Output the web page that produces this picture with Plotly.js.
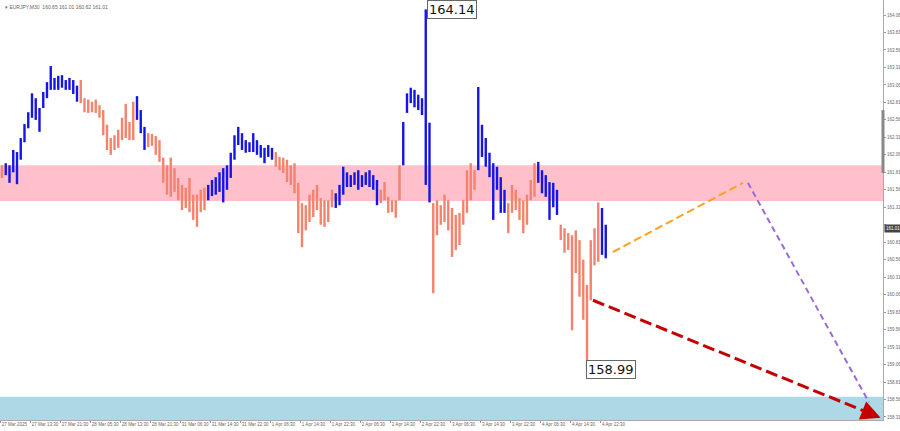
<!DOCTYPE html>
<html><head><meta charset="utf-8">
<script src="https://cdn.plot.ly/plotly-3.0.1.min.js"></script>
<style>html,body{margin:0;padding:0;background:#fff;overflow:hidden}#chart{width:900px;height:431px}</style>
</head><body><div id="chart"></div>
<script>
// ---- data (EURJPY, M30) ----
const highs = [
161.91,161.94,161.91,162.13,162.10,162.30,162.50,162.67,162.94,162.87,
162.73,162.96,163.10,163.33,163.16,163.19,163.20,163.13,163.16,163.13,
163.05,163.13,162.87,162.85,162.82,162.85,162.77,162.70,162.49,162.30,
162.34,162.42,162.59,162.79,162.53,162.82,162.90,162.70,162.46,162.37,
162.36,162.33,162.27,162.02,161.91,162.02,161.87,161.73,161.63,161.59,
161.73,161.49,161.49,161.56,161.59,161.63,161.70,161.74,161.81,161.87,
161.91,162.09,162.34,162.46,162.37,162.27,162.24,162.37,162.27,162.20,
162.16,162.20,162.16,162.10,162.03,162.02,161.99,161.91,161.94,161.66,
161.37,161.34,161.49,161.56,161.63,161.44,161.41,161.41,161.56,161.51,
161.63,161.89,161.81,161.77,161.81,161.84,161.77,161.81,161.84,161.77,
161.70,161.56,161.67,161.46,161.41,161.41,161.91,162.53,162.94,163.02,
162.99,162.92,162.87,164.14,162.52,161.37,161.41,161.34,161.49,161.41,
161.30,161.20,161.23,161.41,161.84,161.94,161.84,163.03,162.49,162.30,
162.09,161.94,161.89,161.74,161.56,161.37,161.63,161.56,161.44,161.41,
161.49,161.70,161.94,161.96,161.84,161.77,161.67,161.66,161.56,161.06,
161.01,160.94,160.91,160.98,160.84,160.56,160.20,160.84,161.01,161.38,
161.30,161.06];
const lows = [
161.73,161.77,161.66,161.81,161.64,161.99,162.24,162.44,162.59,162.56,
162.39,162.73,162.87,162.99,162.99,162.99,163.02,162.99,162.99,162.93,
162.82,162.80,162.67,162.66,162.67,162.66,162.59,162.34,162.13,162.06,
162.13,162.16,162.27,162.30,162.27,162.27,162.56,162.37,162.13,162.17,
162.19,162.06,161.96,161.66,161.49,161.46,161.53,161.41,161.27,161.30,
161.24,161.13,161.03,161.24,161.27,161.41,161.47,161.49,161.53,161.38,
161.56,161.73,161.99,162.20,162.13,162.09,162.10,162.10,162.06,162.02,
161.94,162.03,161.99,161.89,161.84,161.80,161.67,161.63,161.51,160.94,
160.74,160.98,161.10,161.17,161.27,161.06,161.03,161.10,161.31,161.30,
161.34,161.49,161.60,161.60,161.63,161.56,161.60,161.63,161.60,161.56,
161.34,161.37,161.41,161.23,161.24,161.16,161.41,161.91,162.66,162.80,
162.74,162.70,162.63,161.63,161.38,160.08,160.91,161.06,161.10,160.98,
160.60,160.70,160.77,161.06,161.23,161.41,161.56,161.84,162.03,161.89,
161.74,161.13,161.56,161.23,161.23,160.94,161.23,161.27,161.13,160.94,
161.06,161.41,161.46,161.66,161.51,161.46,161.13,161.31,161.20,160.84,
160.66,160.70,159.55,160.37,160.03,159.70,158.99,159.98,160.48,160.53,
160.63,160.58];
// 1 = blue wave segment, 0 = salmon wave segment
const waveColor = [
0,
1,1,1,1,1,1,1,1,1,1,1,1,1,1,1,1,1,1,1,1,
0,0,0,0,0,0,0,0,0,0,0,0,0,0,0,
1,1,1,
0,0,0,0,0,0,0,0,0,0,0,0,0,0,0,0,
1,1,1,1,1,1,1,1,1,1,1,1,1,1,1,1,1,1,
0,0,0,0,0,0,0,0,0,0,0,0,0,0,0,0,
1,1,1,1,1,1,1,1,1,1,1,1,
0,0,0,0,0,0,
1,1,1,1,1,1,1,1,
0,0,0,0,0,0,0,0,0,0,0,0,
1,1,1,1,1,1,1,1,
0,0,0,0,0,0,0,0,
1,1,1,1,1,1,
0,0,0,0,0,0,0,0,0,0,0,
1,1];
const timeLabels = ["27 Mar 2025","27 Mar 13:30","27 Mar 21:30","28 Mar 05:30","28 Mar 13:30","28 Mar 21:30",
"31 Mar 06:30","31 Mar 14:30","31 Mar 22:30","1 Apr 06:30","1 Apr 14:30","1 Apr 22:30",
"2 Apr 06:30","2 Apr 14:30","2 Apr 22:30","3 Apr 06:30","3 Apr 14:30","3 Apr 22:30",
"4 Apr 06:30","4 Apr 14:30","4 Apr 22:30"];
const barsPerLabel = 8;
const priceTicks = [164.06,163.81,163.56,163.31,163.06,162.81,162.56,162.31,162.06,161.81,161.56,161.31,
161.06,160.81,160.56,160.31,160.06,159.81,159.56,159.31,159.06,158.81,158.56,158.31];
const swingHighValue = 164.14, swingHighBar = 113;
const swingLowValue = 158.99, swingLowBar = 156;
const lastPrice = 161.01;
const headerText = "EURJPY,M30  160.65 161.01 160.62 161.01";
const resistanceZone = [161.40, 161.91];
const supportZone = [158.20, 158.60];
// forecast paths (bar index, price)
const orangeX = [162.9, 197.6], orangeY = [160.67, 161.66];
const purpleX = [198.9, 231.2], purpleY = [161.66, 158.52];
const redX = [157.6, 231.5], redY = [159.98, 158.36];
const redTip = [234.3, 158.30];

const xRange = [-0.53, 234.93];
const yRange = [158.267, 164.275];

function bars(dir){
  const x=[], y=[];
  highs.forEach((h,i)=>{ if(waveColor[i]===dir){ x.push(i,i,null); y.push(lows[i],h,null);} });
  return {x,y};
}
const b1 = bars(1), b0 = bars(0);
const traces = [
  {type:'scatter',mode:'lines',x:b0.x,y:b0.y,line:{color:'#f4826c',width:2.4},hoverinfo:'skip',connectgaps:false},
  {type:'scatter',mode:'lines',x:b1.x,y:b1.y,line:{color:'#1515e6',width:2.4},hoverinfo:'skip',connectgaps:false},
  {type:'scatter',mode:'lines',x:orangeX,y:orangeY,line:{color:'#ffa01e',width:2,dash:'8px,4px'},hoverinfo:'skip'},
  {type:'scatter',mode:'lines',x:purpleX,y:purpleY,line:{color:'#9a6ad8',width:2,dash:'6px,4px'},hoverinfo:'skip'},
  {type:'scatter',mode:'lines',x:redX,y:redY,line:{color:'#c40000',width:3,dash:'12px,5px'},hoverinfo:'skip'}
];

// the last-price tag on the axis hides the tick label beneath it
const priceText = priceTicks.map(v => Math.abs(v-lastPrice) < 0.1 ? '' : v.toFixed(2));

const layout = {
  width:900,height:431,
  margin:{l:0,r:17,t:0,b:11,pad:0},
  paper_bgcolor:'#ffffff',plot_bgcolor:'#ffffff',
  showlegend:false,
  font:{family:'Liberation Sans, Arial, sans-serif',size:4.5,color:'#666'},
  xaxis:{range:xRange,showgrid:false,zeroline:false,showline:true,linecolor:'#aaa',linewidth:1,
    tickvals:timeLabels.map((_,k)=>k*barsPerLabel-0.3),ticktext:timeLabels,tickangle:0,
    ticks:'outside',ticklen:2,tickcolor:'#999',ticklabelposition:'outside right',
    tickfont:{size:4.5,color:'#666'},fixedrange:true},
  yaxis:{range:yRange,side:'right',showgrid:false,zeroline:false,showline:true,mirror:true,linecolor:'#aaa',linewidth:1,
    tickvals:priceTicks,ticktext:priceText,
    ticks:'outside',ticklen:2,tickcolor:'#999',tickfont:{size:4.5,color:'#666'},fixedrange:true},
  shapes:[
    {type:'rect',xref:'paper',x0:0,x1:1,yref:'y',y0:resistanceZone[0],y1:resistanceZone[1],fillcolor:'#ffc0cb',line:{width:0},layer:'below'},
    {type:'rect',xref:'paper',x0:0,x1:1,yref:'y',y0:supportZone[0],y1:supportZone[1],fillcolor:'#add8e6',line:{width:0},layer:'below'},
    {type:'line',xref:'paper',x0:1,x1:1,yref:'y',y0:162.70,y1:161.80,line:{color:'#888',width:3}}
  ],
  annotations:[
    {xref:'x',yref:'y',x:swingHighBar+0.4,y:swingHighValue,text:swingHighValue.toFixed(2),showarrow:false,
     xanchor:'left',yanchor:'middle',font:{family:'DejaVu Sans, sans-serif',size:13,color:'#111'},
     bgcolor:'#ffffff',bordercolor:'#666',borderwidth:1,borderpad:1},
    {xref:'x',yref:'y',x:swingLowBar-0.2,y:swingLowValue,text:swingLowValue.toFixed(2),showarrow:false,
     xanchor:'left',yanchor:'middle',font:{family:'DejaVu Sans, sans-serif',size:13,color:'#111'},
     bgcolor:'#ffffff',bordercolor:'#666',borderwidth:1,borderpad:1},
    {xref:'x',yref:'y',x:redTip[0],y:redTip[1],ax:redX[1],ay:redY[1],axref:'x',ayref:'y',
     showarrow:true,arrowhead:2,arrowsize:1.3,arrowwidth:3,arrowcolor:'#c40000',text:''},
    {xref:'paper',yref:'y',x:1,y:lastPrice,text:lastPrice.toFixed(2),showarrow:false,xanchor:'left',yanchor:'middle',
     font:{size:4.5,color:'#fff'},bgcolor:'#444',borderpad:1,xshift:1},
    {xref:'paper',yref:'paper',x:0.003,y:0.995,text:'\u25BE '+headerText,showarrow:false,xanchor:'left',yanchor:'top',
     font:{size:5,color:'#666'}}
  ]
};
Plotly.newPlot('chart',traces,layout,{staticPlot:true,displayModeBar:false});
</script></body></html>
